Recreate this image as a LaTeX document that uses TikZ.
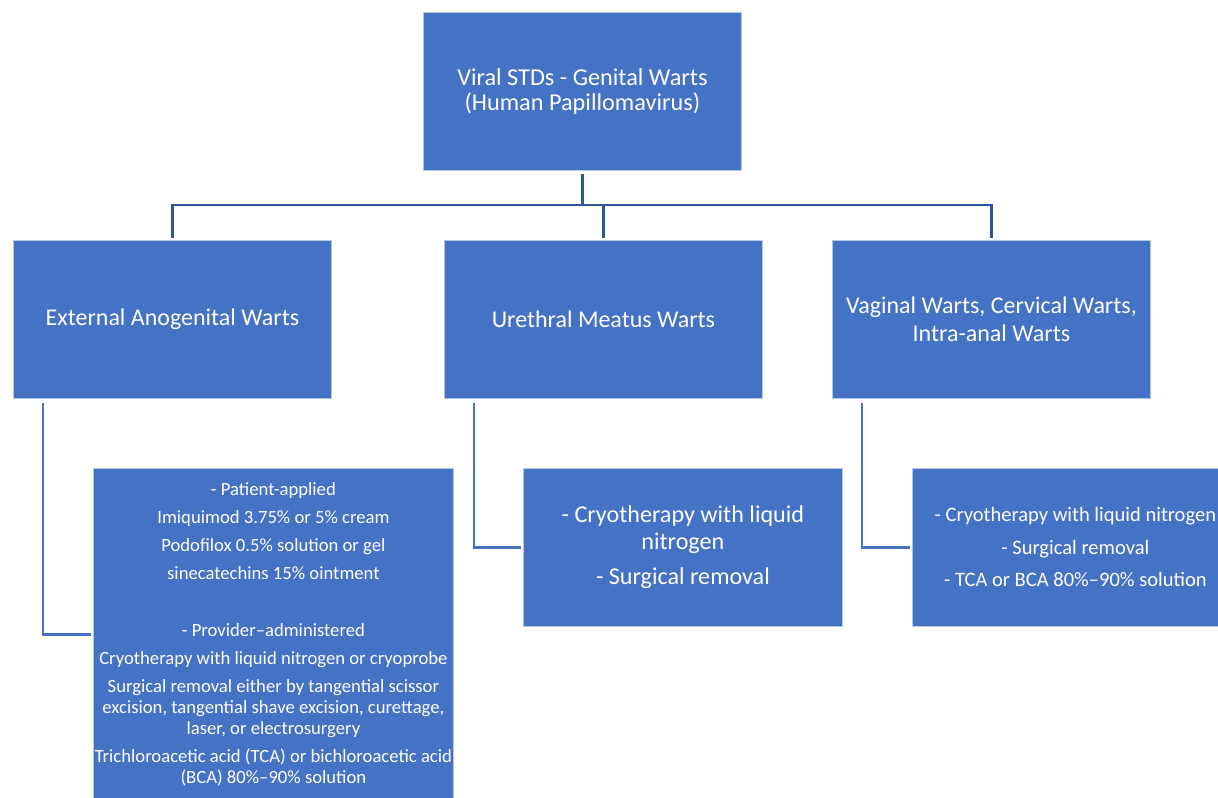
\documentclass[tikz,border=0pt]{standalone}
\usepackage{fontspec}
\setmainfont{Carlito}
\definecolor{boxblue}{HTML}{4472C4}
\definecolor{linedark}{HTML}{2F5597}
\definecolor{boxedge}{HTML}{B4C7E7}
\begin{document}
\begin{tikzpicture}[x=0.75pt,y=-0.75pt,
  box/.style={draw=boxedge, line width=0.6pt, fill=boxblue, text=white, align=center, inner sep=0pt, anchor=north west},
  tree/.style={draw=linedark, line width=2pt},
  sub/.style={draw=boxblue, line width=2.2pt}]
\useasboundingbox (0,0) rectangle (1218,798);

\node[box, minimum width=318*0.75pt, minimum height=158*0.75pt, font=\fontsize{18.2}{18.75}\selectfont] (top) at (423,12) {Viral STDs - Genital Warts\\(Human Papillomavirus)};

\node[box, minimum width=318*0.75pt, minimum height=158*0.75pt, font=\fontsize{18}{21}\selectfont] (ext) at (13,240) {External Anogenital Warts};
\node[box, minimum width=318*0.75pt, minimum height=158*0.75pt, font=\fontsize{18}{21}\selectfont] (ure) at (444,240) {Urethral Meatus Warts};
\node[box, minimum width=318*0.75pt, minimum height=158*0.75pt, font=\fontsize{18}{21}\selectfont] (vag) at (832,240) {Vaginal Warts, Cervical Warts,\\Intra-anal Warts};

\node[box, minimum width=360*0.75pt, minimum height=332*0.75pt, font=\fontsize{14}{15.75}\selectfont] (l3) at (93,468) {- Patient-applied\\[5.25pt]
Imiquimod 3.75\% or 5\% cream\\[5.25pt]
Podofilox 0.5\% solution or gel\\[5.25pt]
sinecatechins 15\% ointment\\[27pt]
- Provider–administered\\[5.25pt]
Cryotherapy with liquid nitrogen or cryoprobe\\[5.25pt]
Surgical removal either by tangential scissor\\
excision, tangential shave excision, curettage,\\
laser, or electrosurgery\\[5.25pt]
Trichloroacetic acid (TCA) or bichloroacetic acid\\
(BCA) 80\%–90\% solution};

\node[box, minimum width=319*0.75pt, minimum height=158*0.75pt, font=\fontsize{18.1}{20.25}\selectfont] (m3) at (523,468) {- Cryotherapy with liquid\\nitrogen\\[6pt]- Surgical removal};

\node[box, minimum width=326*0.75pt, minimum height=158*0.75pt, font=\fontsize{15.4}{18}\selectfont] (r3) at (912,468) {- Cryotherapy with liquid nitrogen\\[6.4pt]- Surgical removal\\[6.4pt]- TCA or BCA 80\%–90\% solution};

\coordinate (bus) at (0,205);
\draw[tree] ([yshift=-2.25pt]top.south) -- (top.south |- bus);
\draw[tree] ([yshift=1.5pt]ext.north) -- (ext.north |- bus) -- (vag.north |- bus) -- ([yshift=1.5pt]vag.north);
\draw[tree] (ure.north |- bus) -- ([yshift=1.5pt]ure.north);

\draw[sub] ([xshift=22.5pt,yshift=-3pt]ext.south west) |- ([xshift=-1.5pt]l3.west);
\draw[sub] ([xshift=22.5pt,yshift=-3pt]ure.south west) |- ([xshift=-1.5pt]m3.west);
\draw[sub] ([xshift=22.5pt,yshift=-3pt]vag.south west) |- ([xshift=-1.5pt]r3.west);
\end{tikzpicture}
\end{document}
